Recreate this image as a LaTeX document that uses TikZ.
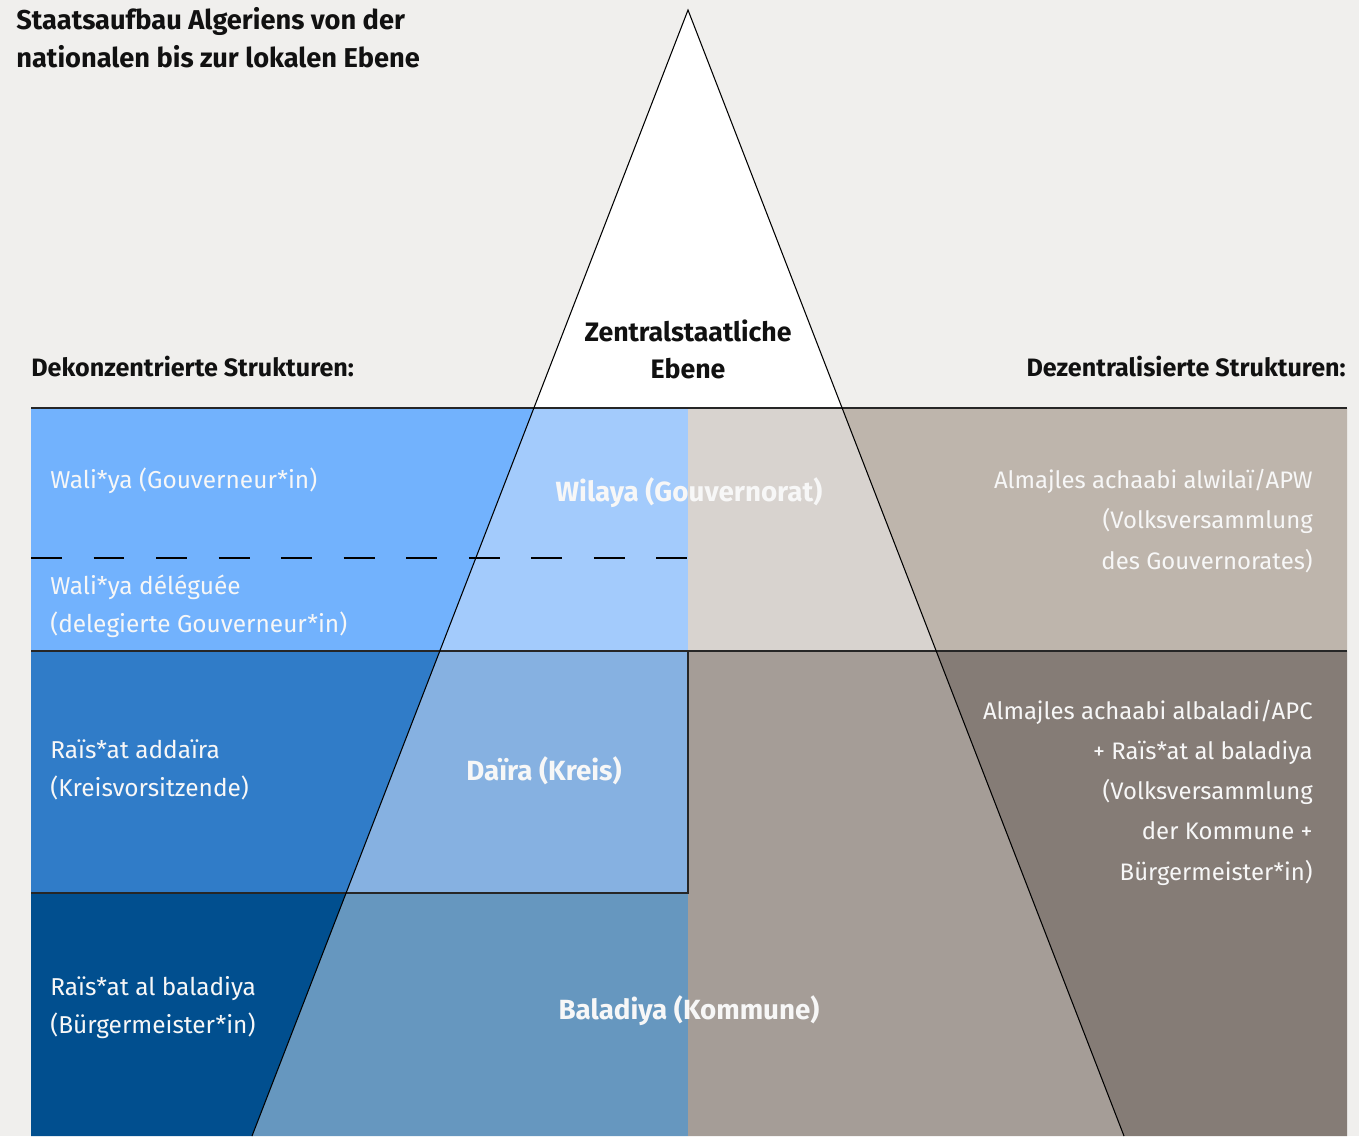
\documentclass[tikz,border=0pt]{standalone}
\usepackage{fontspec}
\setmainfont{Fira Sans}
\usetikzlibrary{positioning, calc}
\definecolor{paper}{HTML}{F0EFED}
\definecolor{deconA}{HTML}{72B2FD}
\definecolor{deconB}{HTML}{307CC8}
\definecolor{deconC}{HTML}{014F8F}
\definecolor{pyrA}{HTML}{A3CBFC}
\definecolor{pyrB}{HTML}{86B1E1}
\definecolor{pyrC}{HTML}{6697BF}
\definecolor{pyrAr}{HTML}{D8D3CF}
\definecolor{pyrBr}{HTML}{A59D97}
\definecolor{decenA}{HTML}{BEB5AC}
\definecolor{decenB}{HTML}{857C76}
\definecolor{inktext}{HTML}{111111}
\definecolor{lighttext}{HTML}{F7F7F7}

\begin{document}
\begin{tikzpicture}[
    x=0.02cm, y=-0.02cm,
    every node/.style={inner sep=0pt},
    edge/.style={draw=black, line width=0.6pt},
    rule/.style={draw=black!85, line width=0.85pt},
    dashrule/.style={draw=black, line width=0.7pt, dash pattern=on 17.6pt off 18pt},
    headtext/.style={font=\fontsize{15.5}{21.5}\selectfont\bfseries, text=inktext, align=left},
    coltext/.style={font=\fontsize{14.3}{21.5}\selectfont\bfseries, text=inktext},
    centertext/.style={font=\fontsize{15.2}{21}\selectfont\bfseries, text=inktext, align=center},
    leveltext/.style={font=\fontsize{15.8}{21.5}\selectfont\bfseries, text=lighttext, align=center},
    roletext/.style={font=\fontsize{13.9}{21.5}\selectfont, text=lighttext, align=left},
    bodytext/.style={font=\fontsize{13.6}{22.9}\selectfont, text=lighttext, align=right},
]

% === background ===
\fill[paper] (0,0) rectangle (1359,1136);

% === left bands (deconcentrated) ===
\fill[deconA] (31,408) -- (533.9,408) -- (439.8,651) -- (31,651) -- cycle;
\fill[deconB] (31,651) -- (439.8,651) -- (346.1,893) -- (31,893) -- cycle;
\fill[deconC] (31,893) -- (346.1,893) -- (252,1136) -- (31,1136) -- cycle;

% === pyramid ===
\fill[white]  (688,10) -- (533.9,408) -- (842.1,408) -- cycle;
\fill[pyrA]   (533.9,408) -- (688,408) -- (688,651) -- (439.8,651) -- cycle;
\fill[pyrB]   (439.8,651) -- (688,651) -- (688,893) -- (346.1,893) -- cycle;
\fill[pyrC]   (346.1,893) -- (688,893) -- (688,1136) -- (252,1136) -- cycle;
\fill[pyrAr]  (688,408) -- (842.1,408) -- (936.2,651) -- (688,651) -- cycle;
\fill[pyrBr]  (688,651) -- (936.2,651) -- (1124,1136) -- (688,1136) -- cycle;

% === right bands (decentralised) ===
\fill[decenA] (842.1,408) -- (1347,408) -- (1347,651) -- (936.2,651) -- cycle;
\fill[decenB] (936.2,651) -- (1347,651) -- (1347,1136) -- (1124,1136) -- cycle;

% === rules ===
\draw[rule] (31,408) -- (1347,408);
\draw[rule] (31,651) -- (1347,651);
\draw[rule] (31,893) -- (688,893) -- (688,651);
\draw[dashrule] (31,558) -- (688,558);
\draw[edge] (252,1136) -- (688,10) -- (1124,1136);

% === headings (base = last line) ===
\node[headtext, anchor=base west] (title) at (16,67)
    {Staatsaufbau Algeriens von der\\nationalen bis zur lokalen Ebene};
\node[coltext, anchor=base west] (deconhead) at (31,376) {Dekonzentrierte Strukturen:};
\node[coltext, anchor=base east] (decenhead) at (1346,376) {Dezentralisierte Strukturen:};
\node[centertext, anchor=base] (central) at (688,378) {Zentralstaatliche\\Ebene};

% === levels ===
\node[leveltext, anchor=base] (wilaya) at (689,501) {Wilaya (Gouvernorat)};
\node[leveltext, anchor=base] (daira) at (544,780) {Daïra (Kreis)};
\node[leveltext, anchor=base] (baladiya) at (689,1019) {Baladiya (Kommune)};

% === left roles ===
\node[roletext, anchor=base west] (wali) at (50,488) {Wali*ya (Gouverneur*in)};
\node[roletext, anchor=base west] (walidel) at (50,632) {Wali*ya déléguée\\(delegierte Gouverneur*in)};
\node[roletext, anchor=base west] (raisdaira) at (50,796) {Raïs*at addaïra\\(Kreisvorsitzende)};
\node[roletext, anchor=base west] (raisbal) at (50,1033) {Raïs*at al baladiya\\(Bürgermeister*in)};

% === right assemblies ===
\node[bodytext, anchor=base east] (apw) at (1313,569)
    {Almajles achaabi alwilaï/APW\\(Volksversammlung\\des Gouvernorates)};
\node[bodytext, anchor=base east] (apc) at (1313,880)
    {Almajles achaabi albaladi/APC\\+ Raïs*at al baladiya\\(Volksversammlung\\der Kommune +\\Bürgermeister*in)};

\end{tikzpicture}
\end{document}
